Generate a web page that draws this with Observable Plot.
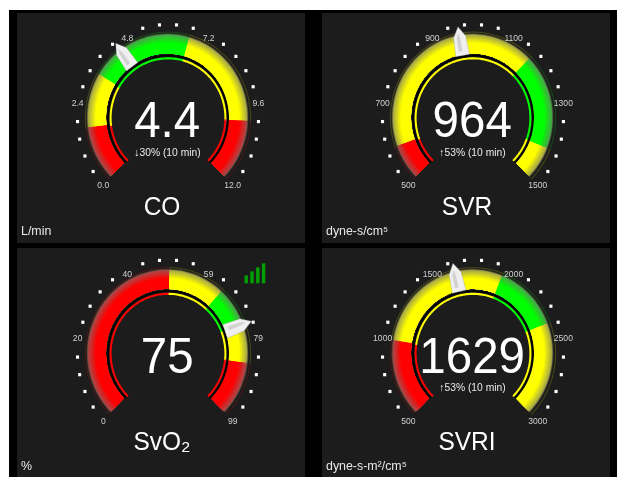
<!DOCTYPE html>
<html><head><meta charset="utf-8">
<script src="https://cdn.jsdelivr.net/npm/d3@7"></script>
<script src="https://cdn.jsdelivr.net/npm/@observablehq/plot@0.6"></script>
<style>html,body{margin:0;padding:0;background:#fff}svg{display:block;filter:blur(.45px)}</style>
</head><body><div id="c"></div>
<script>
const names=["CO","SVR","SvO₂","SVRI"];
const units=["L/min","dyne-s/cm⁵","%","dyne-s-m²/cm⁵"];
const readings=[4.4,964,75,1629];
const readingText=["4.4","964","75","1629"];
const trends=["↓30% (10 min)","↑53% (10 min)","","↑53% (10 min)"];
const scaleMin=[0,500,0,500];
const scaleMax=[12,1500,99,3000];
const tickLabels=[["0.0","2.4","4.8","7.2","9.6","12.0"],["500","700","900","1100","1300","1500"],["0","20","40","59","79","99"],["500","1000","1500","2000","2500","3000"]];
const zoneStops=[[0,1.7,3.4,6.7,10.1,12],[500,593,1167,1413,1500],[0,50,65,75,85,99],[500,1000,1950,2390,3000]];
const zoneColors=[["red","yellow","green","yellow","red"],["red","yellow","green","yellow"],["red","yellow","green","yellow","red"],["red","yellow","green","yellow"]];
const signalBars=[8,12,16,20];
const palette={red:"#ff0000",yellow:"#ffff00",green:"#00ff00"};
const fadePalette={red:"#aa4a4a",yellow:"#a6a648",green:"#4aa64a"};

const W=617,H=477,SY=1.04;
const panels=[[17,13,305,243],[322,13,610,243],[17,248,305,477],[322,248,610,477]];
const centers=[[167.5,117.5],[472.5,117.5],[167.5,353],[472.5,353]];
const ang=(g,v)=>(-135+270*(v-scaleMin[g])/(scaleMax[g]-scaleMin[g]))*Math.PI/180;
const pt=(g,v,r)=>{const a=ang(g,v);return [centers[g][0]+r*Math.sin(a),centers[g][1]-SY*r*Math.cos(a)];};
const sweep=(g,v0,v1)=>{const n=Math.max(2,Math.ceil(Math.abs(v1-v0)/(scaleMax[g]-scaleMin[g])*270/2));return d3.range(n+1).map(i=>v0+(v1-v0)*i/n);};

const bandRows=[],ringRows=[],edgeRows=[],blackRows=[],dotRows=[],tickRows=[],needleRows=[],needleInner=[];
const rInner=61.5;
const layers=[];for(let r=81;r>=72;r-=.75)layers.push(r);
names.forEach((_,g)=>{
  const zs=zoneStops[g];
  zoneColors[g].forEach((name,i)=>{
    const col=palette[name];
    sweep(g,zs[i],zs[i+1]).forEach(v=>{
      const p=pt(g,v,57.4);ringRows.push({x:p[0],y:p[1],z:g+"-"+i,c:col});
      const e=pt(g,v,82.6);edgeRows.push({x:e[0],y:e[1],z:g+"-"+i,c:col});
    });
  });
  sweep(g,scaleMin[g],scaleMax[g]).forEach(v=>{const p=pt(g,v,60);blackRows.push({x:p[0],y:p[1],z:g});});
  for(let k=0;k<=25;k++){
    const v=scaleMin[g]+(scaleMax[g]-scaleMin[g])*k/25;
    if(k%5){const p=pt(g,v,90.5);dotRows.push({x:p[0],y:p[1]+.6});}
    else{
      const top=Math.abs(k-12.5)<5;
      const p=pt(g,v,top?89.5:91.5);
      tickRows.push({x:p[0],y:p[1]+(top?3.5:0),t:tickLabels[g][k/5]});
    }
  }
  const a=ang(g,readings[g]),ux=Math.sin(a),uy=-Math.cos(a),vx=Math.cos(a),vy=Math.sin(a);
  const loc=(r,o)=>[centers[g][0]+r*ux+o*vx,centers[g][1]+SY*(r*uy+o*vy)];
  [[61,-7],[79,-6.2],[89,0],[79,6.2],[61,7],[61,-7]].forEach(([r,o])=>{const q=loc(r,o);needleRows.push({x:q[0],y:q[1],z:g});});
  [[65,-3.4],[78,-3],[83,-.8],[78,.2],[65,.4],[65,-3.4]].forEach(([r,o])=>{const q=loc(r,o);needleInner.push({x:q[0],y:q[1],z:g});});
});
layers.forEach((R,li)=>{
  const t=(R-72)/9;
  names.forEach((_,g)=>{
    const zs=zoneStops[g];
    zoneColors[g].forEach((name,i)=>{
      const mid=d3.interpolateRgb(palette[name],fadePalette[name])(Math.min(1,t/.88));
      const col=t>.88?d3.interpolateRgb(mid,"#3a3a30")((t-.88)/.12):mid;
      sweep(g,zs[i],zs[i+1]).forEach(v=>{
        const a=pt(g,v,rInner),b=pt(g,v,R);
        bandRows.push({x1:a[0],y1:a[1],x2:b[0],y2:b[1],fill:col,z:li+"-"+g+"-"+i});
      });
    });
  });
});
const font="'Liberation Sans',Arial,sans-serif";
const cRows=names.map((n,g)=>({n,u:units[g],r:readingText[g],tr:trends[g],x:centers[g][0],yc:centers[g][1],ux:panels[g][0]+3.5}));
const panelRows=panels.map(p=>({x1:p[0],y1:p[1],x2:p[2],y2:p[3]}));
const sigRows=signalBars.map((h,i)=>({x1:244.5+i*5.8,x2:247.9+i*5.8,y1:283.3-h,y2:283.3}));

const chart=Plot.plot({
  width:W,height:459,margin:0,
  style:{background:"#fff",fontFamily:font,overflow:"hidden"},
  x:{type:"linear",domain:[0,W],range:[0,W],axis:null},
  y:{type:"linear",domain:[0,H],range:[0,459],axis:null},
  color:{type:"identity"},
  marks:[
    Plot.rect([{x1:9,x2:W,y1:10,y2:H}],{x1:"x1",x2:"x2",y1:"y1",y2:"y2",fill:"#000"}),
    Plot.rect(panelRows,{x1:"x1",x2:"x2",y1:"y1",y2:"y2",fill:"#1c1c1c"}),
    Plot.line(edgeRows,{x:"x",y:"y",z:"z",stroke:"c",strokeWidth:1,strokeOpacity:.2}),
    Plot.area(bandRows,{x1:"x1",y1:"y1",x2:"x2",y2:"y2",z:"z",fill:"fill",curve:"linear"}),
    Plot.line(blackRows,{x:"x",y:"y",z:"z",stroke:"#000",strokeWidth:1.7}),
    Plot.line(ringRows,{x:"x",y:"y",z:"z",stroke:"c",strokeWidth:2}),
    Plot.dot(dotRows,{x:"x",y:"y",symbol:"square",r:1.75,fill:"#fff"}),
    Plot.line(needleRows,{x:"x",y:"y",z:"z",fill:"#efefef",stroke:"#888",strokeWidth:.3}),
    Plot.line(needleInner,{x:"x",y:"y",z:"z",fill:"#d2d2d2",stroke:"none"}),
    Plot.rect(sigRows,{x1:"x1",x2:"x2",y1:"y1",y2:"y2",fill:"#00a000"}),
    Plot.text(tickRows,{x:"x",y:"y",text:"t",fill:"#d0d0d0",fontSize:8.6}),
    Plot.text(cRows,{x:d=>d.x-.8,y:d=>d.yc+3.2,text:"r",fill:"#fff",fontSize:47.5}),
    Plot.text(cRows,{x:d=>d.x-.5,y:d=>d.yc+34.2,text:"tr",fill:"#eaeaea",fontSize:10.3}),
    Plot.text(cRows,{x:d=>d.x-6,y:d=>d.yc+88.5,text:"n",fill:"#fff",fontSize:24.5}),
    Plot.text(cRows,{x:"ux",y:d=>d.yc+112.8,text:"u",textAnchor:"start",fill:"#e8e8e8",fontSize:12.4})
  ]
});
chart.setAttribute("width",W);chart.setAttribute("height",H);
chart.setAttribute("viewBox",`0 0 ${W} 459`);chart.setAttribute("preserveAspectRatio","none");
chart.style.width=W+"px";chart.style.height=H+"px";chart.style.maxWidth="none";
document.getElementById("c").appendChild(chart);
</script></body></html>
